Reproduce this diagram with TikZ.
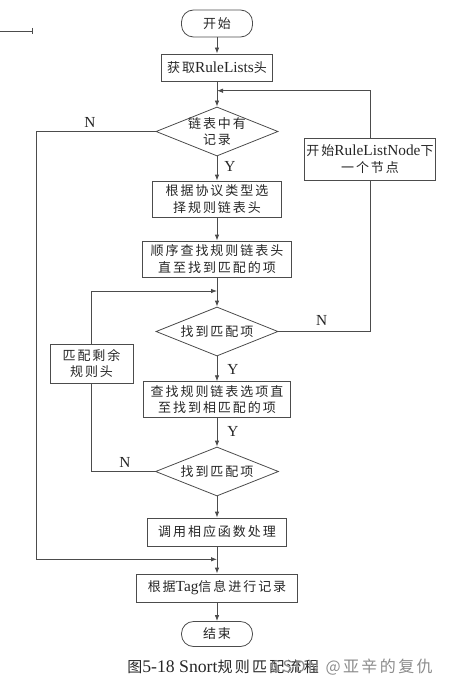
\documentclass[tikz,border=0pt]{standalone}
\usepackage{fontspec}
\setmainfont{Liberation Serif}[Scale=1.18]
\newfontfamily\cjk[LetterSpace=15]{Noto Sans CJK SC}
\newcommand{\zh}[1]{{\cjk #1}}
\usetikzlibrary{shapes.geometric,arrows.meta}

\begin{document}
\begin{tikzpicture}[x=1pt,y=-1pt,line width=0.8pt,
   >={Latex[length=6pt,width=4.5pt]},
   every node/.style={font=\fontsize{13}{16.5}\selectfont,text=black!85},
   term/.style={draw=black!70,rounded corners=12pt,minimum width=71pt,inner sep=0pt},
   box/.style={draw=black!70,align=center,inner sep=0pt},
   decide/.style={draw=black!70,diamond,aspect=2.5,align=center,inner sep=-4pt,
                  minimum width=122pt,minimum height=49pt},
   flow/.style={draw=black!70,->}]
   \useasboundingbox (0,0) rectangle (452,687);

   % main column
   \node[term,minimum height=27pt] (start) at (217,23.5) {\zh{开始}};
   \node[box,minimum width=111pt,minimum height=27pt] (get) at (217,67.5) {\zh{获取}RuleLists\zh{头}};
   \node[decide] (dec1) at (217,131.5) {\zh{链表中有}\\\zh{记录}};
   \node[box,minimum width=129pt,minimum height=36pt] (sel) at (217,199) {\zh{根据协议类型选}\\\zh{择规则链表头}};
   \node[box,minimum width=149pt,minimum height=36pt] (seq) at (217,259) {\zh{顺序查找规则链表头}\\\zh{直至找到匹配的项}};
   \node[decide] (dec2) at (217,331.5) {\zh{找到匹配项}};
   \node[box,minimum width=147pt,minimum height=36pt] (find) at (217,399.7) {\zh{查找规则链表选项直}\\\zh{至找到相匹配的项}};
   \node[decide,minimum width=123pt] (dec3) at (217,471.5) {\zh{找到匹配项}};
   \node[box,minimum width=139pt,minimum height=28pt] (call) at (217,532) {\zh{调用相应函数处理}};
   \node[box,minimum width=161pt,minimum height=28pt] (rec) at (217,588) {\zh{根据}Tag\zh{信息进行记录}};
   \node[term,minimum height=25pt] (stop) at (217,634) {\zh{结束}};

   % side boxes
   \node[box,minimum width=131pt,minimum height=42pt] (next) at (370,159) {\zh{开始}RuleListNode\zh{下}\\\zh{一个节点}};
   \node[box,minimum width=83pt,minimum height=39pt] (rest) at (91.5,363.5) {\zh{匹配剩余}\\\zh{规则头}};

   \coordinate (j1) at (217,90.7);
   \coordinate (j2) at (217,291);
   \coordinate (j3) at (217,559.3);
   \coordinate (lft) at (36.7,559.3);

   \draw[flow] (start) -- (get);
   \draw[flow] (get) -- (dec1);
   \draw[flow] (dec1) -- (sel);
   \draw[flow] (sel) -- (seq);
   \draw[flow] (seq) -- (dec2);
   \draw[flow] (dec2) -- (find);
   \draw[flow] (find) -- (dec3);
   \draw[flow] (dec3) -- (call);
   \draw[flow] (call) -- (rec);
   \draw[flow] (rec) -- (stop);

   % loops
   \draw[flow] (dec1.west) -| (lft) -- (j3);
   \draw[draw=black!70] (dec2.east) -| (next.south);
   \draw[flow] (next.north) |- (j1);
   \draw[draw=black!70] (dec3.west) -| (rest.south);
   \draw[flow] (rest.north) |- (j2);

   \node (n1) at (90,122) {N};
   \node (y1) at (230,166) {Y};
   \node (n2) at (321.7,320) {N};
   \node (y2) at (233,369) {Y};
   \node (y3) at (233,431.7) {Y};
   \node (n3) at (125,462) {N};

   % stray mark, top left
   \coordinate (m0) at (0,31);
   \coordinate (m1) at (33,31);
   \draw[draw=black!70,-{Bar[width=6pt]}] (m0) -- (m1);

   \node[anchor=west] (cap) at (123,667) {\fontsize{15}{18}\selectfont\zh{图}5-18 Snort\zh{规则匹配流程}};
   \node[anchor=east,text=black!45] (wm) at (437,667) {\fontsize{16}{18}\selectfont\cjk CSDN @亚辛的复仇};
\end{tikzpicture}
\end{document}
